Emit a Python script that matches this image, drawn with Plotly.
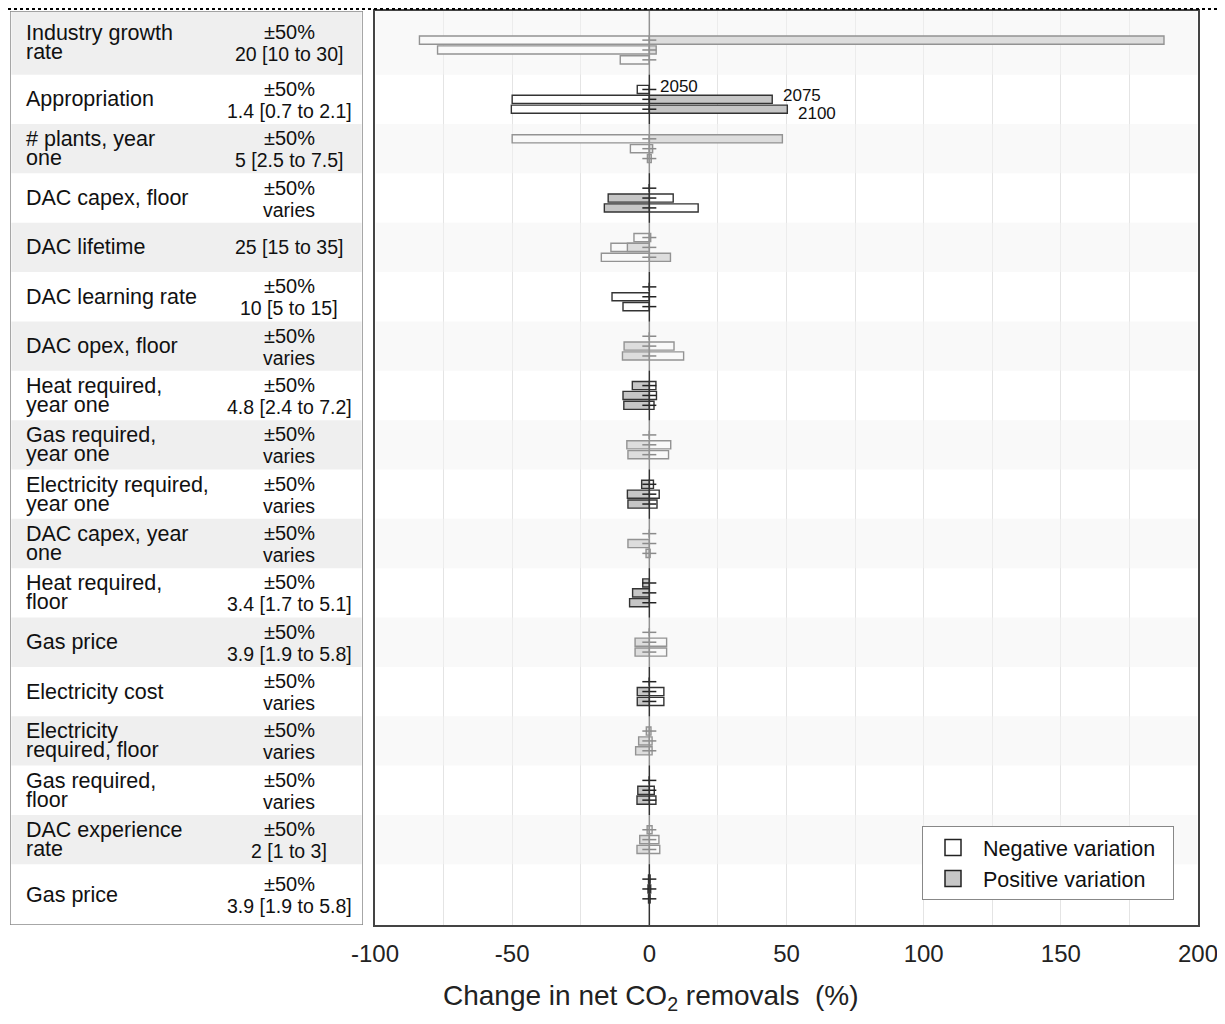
import plotly.graph_objects as go

# ---------------- data ----------------
categories = ["Industry growth rate", "Appropriation", "# plants, year one", "DAC capex, floor",
              "DAC lifetime", "DAC learning rate", "DAC opex, floor", "Heat required, year one",
              "Gas required, year one", "Electricity required, year one", "DAC capex, year one",
              "Heat required, floor", "Gas price", "Electricity cost", "Electricity required, floor",
              "Gas required, floor", "DAC experience rate", "Gas price"]
label_lines = [["Industry growth", "rate"], ["Appropriation"], ["# plants, year", "one"],
               ["DAC capex, floor"], ["DAC lifetime"], ["DAC learning rate"], ["DAC opex, floor"],
               ["Heat required,", "year one"], ["Gas required,", "year one"],
               ["Electricity required,", "year one"], ["DAC capex, year", "one"],
               ["Heat required,", "floor"], ["Gas price"], ["Electricity cost"],
               ["Electricity", "required, floor"], ["Gas required,", "floor"],
               ["DAC experience", "rate"], ["Gas price"]]
variation = ["±50%", "±50%", "±50%", "±50%", "", "±50%", "±50%", "±50%", "±50%", "±50%",
             "±50%", "±50%", "±50%", "±50%", "±50%", "±50%", "±50%", "±50%"]
base_values = ["20 [10 to 30]", "1.4 [0.7 to 2.1]", "5 [2.5 to 7.5]", "varies", "25 [15 to 35]",
               "10 [5 to 15]", "varies", "4.8 [2.4 to 7.2]", "varies", "varies", "varies",
               "3.4 [1.7 to 5.1]", "3.9 [1.9 to 5.8]", "varies", "varies", "varies",
               "2 [1 to 3]", "3.9 [1.9 to 5.8]"]
years = ["2050", "2075", "2100"]
legend_names = ["Negative variation", "Positive variation"]

# change in net CO2 removals (%) for the negative (-50%) variation
neg_2050 = [-83.8, -4.4, -50.0, 0.0, -5.6, 0.0, 0.0, 2.4, 0.0, 1.5, 0.0, 0.0, 0.0, 0.0, 0.6, 0.0, 1.0, 0.3]
neg_2075 = [-77.2, -50.0, -6.9, 8.7, -14.0, -13.6, 9.0, 2.6, 7.8, 3.6, 0.0, 0.0, 6.3, 5.3, 1.0, 1.8, 3.5, 0.5]
neg_2100 = [-10.6, -50.3, -0.7, 17.8, -17.5, -9.6, 12.5, 1.7, 7.0, 2.8, 0.3, 0.0, 6.3, 5.3, 1.0, 2.4, 3.8, 0.3]
# change in net CO2 removals (%) for the positive (+50%) variation
pos_2050 = [187.6, 0.0, 48.5, 0.0, 0.5, 0.0, 0.0, -6.2, 0.0, -2.8, 0.0, -2.4, 0.0, 0.0, -1.1, 0.0, -0.8, -0.3]
pos_2075 = [2.5, 44.8, 1.2, -15.0, -8.0, 0.0, -9.2, -9.6, -8.2, -8.0, -7.8, -6.1, -5.2, -4.4, -3.9, -4.2, -3.5, -0.5]
pos_2100 = [0.0, 50.3, 0.7, -16.4, 7.7, 0.0, -9.8, -9.3, -7.8, -7.8, -1.2, -7.2, -5.2, -4.4, -5.0, -4.5, -4.5, -0.3]

x_ticks = [-100, -50, 0, 50, 100, 150, 200]
x_tick_labels = ["-100", "-50", "0", "50", "100", "150", "200"]

# ---------------- layout constants ----------------
PAGE = 8                      # page body margin
W, H = 1225 - PAGE, 1024 - 2 * PAGE
ML, MR, MT, MB = 2, 27, 3, 91
PW, PH = W - ML - MR, H - MT - MB
Y_TOP, Y_BOT = -0.79, 17.73
OFFS = [-0.2, 0.0, 0.2]
BAR_W = 0.165
FONT = "Liberation Sans, Arial, sans-serif"


def pxx(X):
    return (X - PAGE - ML) / PW


def pxy(Y):
    return (MT + PH - (Y - PAGE)) / PH


n = len(categories)
neg = [neg_2050, neg_2075, neg_2100]
pos = [pos_2050, pos_2075, pos_2100]


def band(i):
    lo = Y_TOP if i == 0 else i - 0.5
    hi = Y_BOT if i == n - 1 else i + 0.5
    return lo, hi


ys, nx, px_ = [], [], []
for i in range(n):
    for k in range(3):
        ys.append(i + OFFS[k])
        nx.append(neg[k][i])
        px_.append(pos[k][i])

fig = go.Figure()
fig.add_trace(go.Bar(x=nx, y=ys, base=0, orientation="h", width=BAR_W,
                     marker=dict(color="white", line=dict(color="#333333", width=1.4)),
                     showlegend=False, hoverinfo="skip"))
fig.add_trace(go.Bar(x=px_, y=ys, base=0, orientation="h", width=BAR_W,
                     marker=dict(color="#c6c6c6", line=dict(color="#333333", width=1.4)),
                     showlegend=False, hoverinfo="skip"))
fig.add_trace(go.Scatter(x=[0] * len(ys), y=ys, mode="markers",
                         marker=dict(symbol="line-ew", size=10, line=dict(color="#222222", width=1.5)),
                         showlegend=False, hoverinfo="skip"))
# legend entries
fig.add_trace(go.Scatter(x=[None], y=[None], mode="markers", name=legend_names[0] + "\u00a0\u00a0",
                         marker=dict(symbol="square", size=18, color="white",
                                     line=dict(color="#222222", width=1.5))))
fig.add_trace(go.Scatter(x=[None], y=[None], mode="markers", name=legend_names[1] + "\u00a0\u00a0",
                         marker=dict(symbol="square", size=18, color="#c6c6c6",
                                     line=dict(color="#222222", width=1.5))))

shapes = []
shapes.append(dict(type="line", xref="x", yref="y", x0=0, x1=0, y0=Y_TOP, y1=Y_BOT,
                   line=dict(color="#333333", width=1.5), layer="above"))
for i in range(0, n, 2):
    lo, hi = band(i)
    shapes.append(dict(type="rect", xref="x domain", yref="y", x0=0.001, x1=0.999, y0=lo, y1=hi,
                       fillcolor="rgba(244,244,244,0.5)", line=dict(width=0), layer="above"))

for i in range(0, n, 2):
    lo, hi = band(i)
    shapes.append(dict(type="rect", xref="x2", yref="y", x0=0.004, x1=0.996, y0=lo, y1=hi,
                       fillcolor="#efefef", line=dict(width=0), layer="below"))
shapes.append(dict(type="rect", xref="x2", yref="y", x0=0, x1=1, y0=Y_TOP, y1=Y_BOT,
                   line=dict(color="#8a8a8a", width=1.5), fillcolor="rgba(0,0,0,0)", layer="above"))
shapes.append(dict(type="line", xref="paper", yref="paper", x0=pxx(PAGE), x1=pxx(1225),
                   y0=pxy(PAGE + 1), y1=pxy(PAGE + 1),
                   line=dict(color="black", width=2, dash="dot")))

annotations = []
LX = (24 - 10) / 353
CX = (289 - 10) / 353
for i in range(n):
    lo, hi = band(i)
    mid = (lo + hi) / 2
    lines = label_lines[i]
    if len(lines) == 1:
        annotations.append(dict(x=LX, y=mid, xref="x2", yref="y", text=lines[0], showarrow=False,
                                xanchor="left", yanchor="middle", font=dict(size=21.5, color="#111")))
    else:
        for j, t in enumerate(lines):
            annotations.append(dict(x=LX, y=mid, xref="x2", yref="y", text=t, showarrow=False,
                                    xanchor="left", yanchor="middle", yshift=9.5 if j == 0 else -9.5,
                                    font=dict(size=21.5, color="#111")))
    if variation[i]:
        annotations.append(dict(x=CX, y=mid, xref="x2", yref="y", text=variation[i], showarrow=False,
                                xanchor="center", yanchor="middle", yshift=10.5,
                                font=dict(size=20, color="#111")))
        annotations.append(dict(x=CX, y=mid, xref="x2", yref="y", text=base_values[i], showarrow=False,
                                xanchor="center", yanchor="middle", yshift=-11.5,
                                font=dict(size=19.5, color="#111")))
    else:
        annotations.append(dict(x=CX, y=mid, xref="x2", yref="y", text=base_values[i], showarrow=False,
                                xanchor="center", yanchor="middle",
                                font=dict(size=19.5, color="#111")))

yr_row = 1
yr_shift = [3, 4, -4]
for k in range(3):
    end = max(0, neg[k][yr_row], pos[k][yr_row])
    annotations.append(dict(x=end, y=yr_row + OFFS[k], xref="x", yref="y", text=years[k],
                            showarrow=False, xanchor="left", yanchor="middle", xshift=9,
                            yshift=yr_shift[k], font=dict(size=17, color="#111")))

annotations.append(dict(x=pxx(651), y=pxy(998), xref="paper", yref="paper",
                        text="Change in net CO<sub>2</sub> removals  (%)",
                        showarrow=False, xanchor="center", yanchor="middle",
                        font=dict(size=28, color="#222")))

fig.update_layout(
    width=W, height=H,
    margin=dict(l=ML, r=MR, t=MT, b=MB, pad=0, autoexpand=False),
    paper_bgcolor="white", plot_bgcolor="white",
    barmode="overlay",
    font=dict(family=FONT, color="#111"),
    xaxis=dict(domain=[pxx(375), pxx(1198)], range=[-100, 200], tickvals=x_ticks,
               ticktext=x_tick_labels,
               showgrid=True, gridcolor="#e4e4e4", gridwidth=1,
               minor=dict(dtick=25, showgrid=True, gridcolor="#e4e4e4", gridwidth=1),
               zeroline=False, showline=True, mirror=True, linecolor="#444444", linewidth=1.5,
               ticks="", tickfont=dict(size=24, color="#222"), ticklabelstandoff=6,
               anchor="y", automargin=False),
    xaxis2=dict(domain=[pxx(10), pxx(363)], range=[0, 1], visible=False, anchor="y",
                automargin=False),
    yaxis=dict(range=[Y_BOT, Y_TOP], showticklabels=False, showgrid=False, zeroline=False,
               showline=True, mirror=True, linecolor="#444444", linewidth=1.5, ticks="",
               automargin=False),
    legend=dict(x=pxx(922), xanchor="left", y=pxy(900), yanchor="bottom",
                bgcolor="white", bordercolor="#888888", borderwidth=1,
                font=dict(size=21.5, color="#111"), tracegroupgap=0, itemwidth=50),
    shapes=shapes,
    annotations=annotations,
)

fig.write_html("out.html")
